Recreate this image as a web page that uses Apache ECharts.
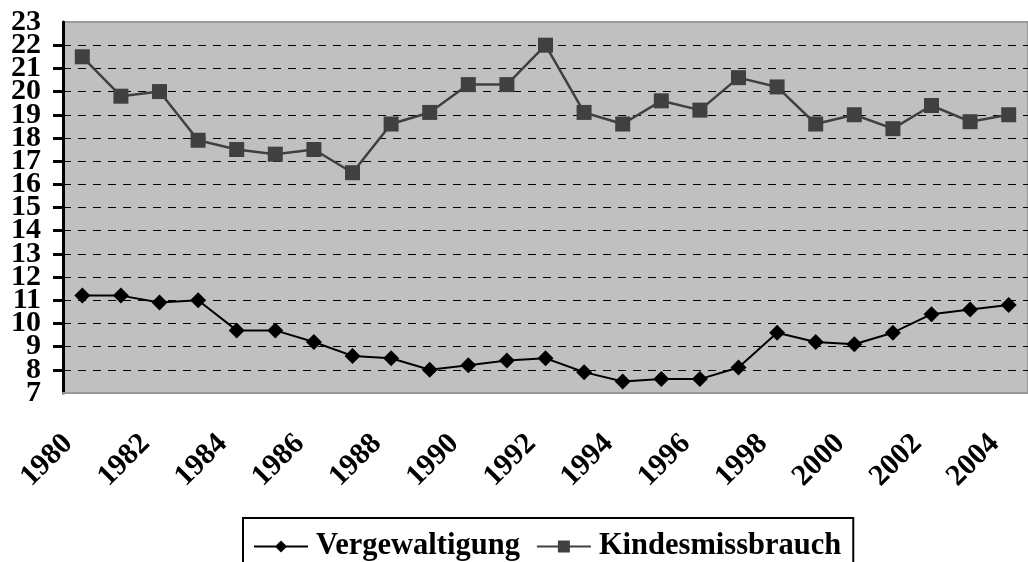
<!DOCTYPE html>
<html>
<head>
<meta charset="utf-8">
<script src="https://cdn.jsdelivr.net/npm/echarts@6/dist/echarts.min.js"></script>
<style>
  html, body { margin: 0; padding: 0; background: #fff; }
  #chart { width: 1028px; height: 562px; }
</style>
</head>
<body>
<div id="chart"></div>
<script>
// Jahre und Werte
const years = ['1980', '1981', '1982', '1983', '1984', '1985', '1986', '1987', '1988', '1989',
  '1990', '1991', '1992', '1993', '1994', '1995', '1996', '1997', '1998', '1999',
  '2000', '2001', '2002', '2003', '2004'];
const vergewaltigung = [11.2, 11.2, 10.9, 11.0, 9.7, 9.7, 9.2, 8.6, 8.5, 8.0,
  8.2, 8.4, 8.5, 7.9, 7.5, 7.6, 7.6, 8.1, 9.6, 9.2,
  9.1, 9.6, 10.4, 10.6, 10.8];
const kindesmissbrauch = [21.5, 19.8, 20.0, 17.9, 17.5, 17.3, 17.5, 16.5, 18.6, 19.1,
  20.3, 20.3, 22.0, 19.1, 18.6, 19.6, 19.2, 20.6, 20.2, 18.6,
  19.0, 18.4, 19.4, 18.7, 19.0];
const yMin = 7;
const yMax = 23;

const font = '"Liberation Serif", "Times New Roman", serif';
const chart = echarts.init(document.getElementById('chart'));

const yLabelStyle = {
  margin: 22,
  fontFamily: font,
  fontWeight: 'bold',
  fontSize: 30,
  color: '#000'
};

const option = {
  animation: false,
  grid: {
    left: 63,
    right: -10,
    top: 22,
    bottom: 169,
    show: true,
    backgroundColor: '#C0C0C0',
    borderColor: '#999',
    borderWidth: 2
  },
  legend: {
    left: 243,
    top: 518,
    padding: [13, 12, 10, 10],
    borderColor: '#000',
    borderWidth: 2,
    itemGap: 16,
    itemWidth: 54,
    itemHeight: 15,
    textStyle: {
      fontFamily: font,
      fontWeight: 'bold',
      fontSize: 30.5,
      color: '#000',
      padding: [0, 0, 0, 3]
    },
    data: ['Vergewaltigung', 'Kindesmissbrauch']
  },
  xAxis: {
    type: 'category',
    data: years,
    boundaryGap: true,
    axisLine: { lineStyle: { color: '#999', width: 2 } },
    axisTick: { interval: 0, length: 9, lineStyle: { color: '#555', width: 2 } },
    axisLabel: {
      interval: 1,
      rotate: 45,
      margin: 32,
      padding: [0, 20, 0, 0],
      fontFamily: font,
      fontWeight: 'bold',
      fontSize: 30,
      color: '#000'
    }
  },
  yAxis: [
    {
      type: 'value',
      min: yMin,
      max: yMax,
      interval: 1,
      axisLine: { show: true, lineStyle: { color: '#000', width: 3 } },
      axisTick: { show: true, length: 10, lineStyle: { color: '#000', width: 3 } },
      axisLabel: Object.assign({ showMinLabel: false, showMaxLabel: false }, yLabelStyle),
      splitLine: {
        show: true,
        showMaxLine: false,
        lineStyle: { color: '#000', width: 1, type: [8, 7] }
      }
    },
    {
      // nur fuer die Beschriftung 7 und 23
      type: 'value',
      position: 'left',
      min: yMin,
      max: yMax,
      interval: 1,
      axisLine: { show: false },
      axisTick: { show: false },
      splitLine: { show: false },
      axisLabel: Object.assign({
        showMinLabel: true,
        showMaxLabel: true,
        formatter: v => (v === yMin || v === yMax) ? String(v) : ''
      }, yLabelStyle)
    }
  ],
  series: [
    {
      name: 'Vergewaltigung',
      type: 'line',
      data: vergewaltigung,
      symbol: 'diamond',
      symbolSize: [16, 16],
      lineStyle: { color: '#000', width: 2 },
      itemStyle: { color: '#000' }
    },
    {
      name: 'Kindesmissbrauch',
      type: 'line',
      data: kindesmissbrauch,
      symbol: 'rect',
      symbolSize: 15,
      lineStyle: { color: '#404040', width: 2.5 },
      itemStyle: { color: '#404040' }
    }
  ]
};

chart.setOption(option);
</script>
</body>
</html>
